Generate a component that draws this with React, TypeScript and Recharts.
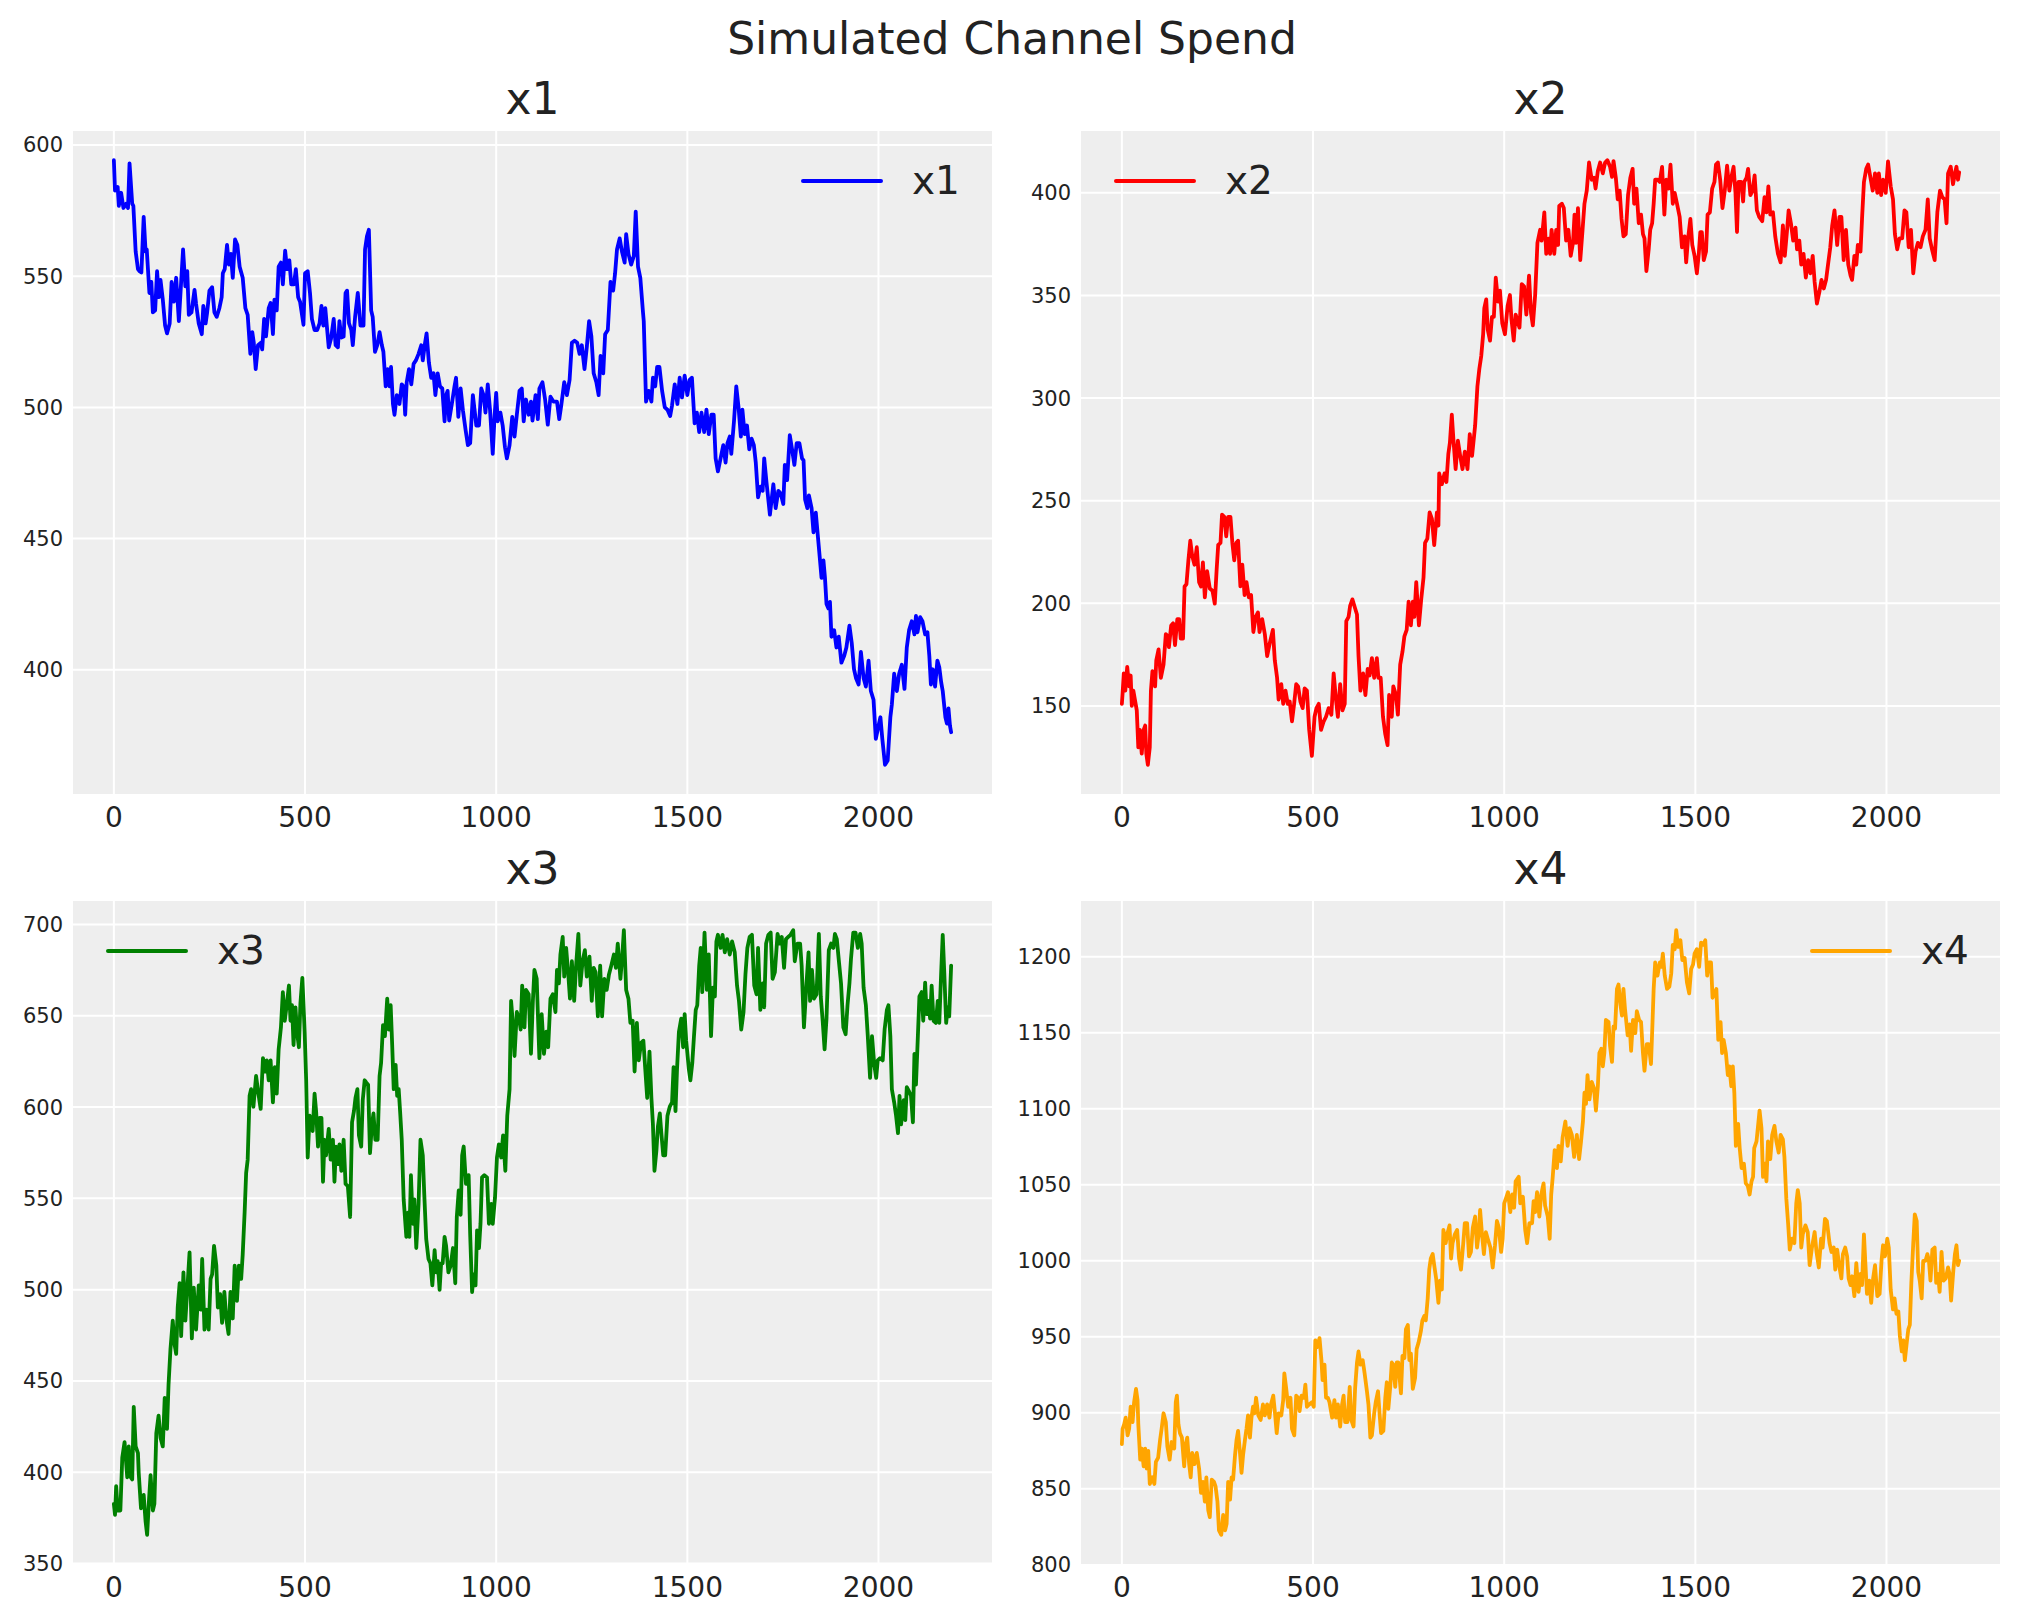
import { LineChart, Line, XAxis, YAxis, CartesianGrid, Legend } from "recharts";

// simulated daily spend per channel as [day, spend]
const channelNames = ["x1", "x2", "x3", "x4"];
const channelColors = ["#0000ff", "#ff0000", "#008000", "#ffa500"];
const dayTicks = [0, 500, 1000, 1500, 2000];
const lastDay = 2190;

const x1Ticks = [400, 450, 500, 550, 600];
const x2Ticks = [150, 200, 250, 300, 350, 400];
const x3Ticks = [350, 400, 450, 500, 550, 600, 650, 700];
const x4Ticks = [800, 850, 900, 950, 1000, 1050, 1100, 1150, 1200];

const x1Spend: [number, number][] = [
  [0, 594.2], [3, 582.6], [10, 584], [13, 576.8], [19, 581.8], [25, 576], [32, 577.6], [37, 576], [41, 593], [48, 577.6],
  [51, 576.8], [57, 559.4], [63, 552.7], [67, 551.9], [72, 551.4], [78, 572.6], [83, 559.4], [86, 560.2], [93, 543.6], [98, 547.8],
  [102, 536.2], [108, 537], [113, 551.9], [118, 542], [122, 548.6], [128, 541.1], [134, 531.2], [139, 528.2], [146, 532], [151, 547.8],
  [157, 540.3], [163, 549.4], [170, 532.9], [176, 547.8], [181, 560.2], [187, 546.1], [192, 551.9], [196, 535.3], [203, 536.2], [211, 544.8],
  [215, 539.5], [222, 532], [230, 527.9], [234, 538.7], [240, 532], [244, 536.2], [250, 544.5], [257, 545.8], [263, 536.2], [269, 534.5],
  [276, 537.8], [282, 542], [285, 551.1], [290, 552.7], [296, 561.9], [301, 554.4], [306, 558.5], [311, 549.4], [317, 564], [323, 561.9],
  [329, 553.6], [337, 549.4], [344, 537.8], [350, 535.3], [357, 520.4], [362, 528.7], [366, 524.6], [371, 514.6], [377, 523.7], [384, 524.6],
  [388, 522.1], [393, 533.7], [398, 527.1], [405, 537.8], [410, 539.8], [416, 527.9], [420, 541.1], [426, 537], [431, 553.6], [437, 555.2],
  [442, 546.9], [448, 559.7], [453, 552.7], [459, 556], [464, 546.9], [471, 546.9], [476, 552.7], [482, 542], [487, 540.3], [496, 531.5],
  [500, 551.1], [507, 551.9], [513, 543.6], [518, 533.7], [525, 529.5], [532, 529.5], [538, 532], [543, 538.7], [548, 531.2], [553, 537.8],
  [558, 529.5], [562, 522.9], [568, 526.2], [575, 533.7], [580, 523.7], [586, 522.9], [590, 532.9], [595, 526.6], [601, 527], [606, 543.6],
  [610, 544.5], [615, 532], [621, 529.5], [625, 523.7], [631, 534.5], [638, 543.6], [645, 531.2], [653, 531.2], [657, 560.2], [662, 565.2],
  [667, 567.7], [673, 537], [677, 534.5], [683, 521.2], [689, 523.7], [695, 528.7], [701, 523.7], [705, 521.2], [711, 508], [716, 514.6],
  [721, 508], [725, 515.4], [730, 501.3], [734, 497.2], [740, 504.7], [747, 501.3], [753, 508.8], [758, 508], [762, 497.2], [766, 509.6],
  [772, 514.6], [778, 508.8], [784, 516.6], [790, 517.9], [797, 520.4], [804, 523.7], [808, 517.9], [814, 524.6], [818, 528.2], [824, 517.1],
  [830, 511.3], [836, 513], [841, 504.7], [847, 513], [853, 508], [859, 507.2], [865, 494.7], [869, 504.7], [873, 506.3], [877, 495],
  [884, 501.3], [891, 508], [895, 511.3], [901, 496.4], [907, 507.2], [913, 498.9], [920, 491.4], [926, 485.6], [932, 486.4], [939, 504.7],
  [943, 499.7], [948, 493.1], [955, 493.1], [961, 507.2], [967, 504.7], [972, 498], [978, 508.8], [984, 498.9], [991, 482.3], [996, 497.2],
  [1000, 505.5], [1004, 494.7], [1011, 498], [1017, 493.1], [1023, 484.8], [1028, 480.6], [1035, 485.6], [1042, 496.4], [1048, 488.9], [1054, 497.2],
  [1061, 506.3], [1067, 507.2], [1072, 494.7], [1078, 503], [1085, 497.2], [1091, 502.2], [1095, 495], [1103, 504.7], [1109, 495.5], [1113, 507.2],
  [1121, 509.6], [1128, 503], [1135, 493.4], [1142, 504.1], [1150, 502.2], [1159, 502.2], [1165, 495.5], [1170, 500.5], [1178, 509.6], [1185, 504.7],
  [1192, 510.5], [1198, 524.6], [1205, 525.4], [1212, 524.6], [1218, 520.4], [1224, 523.7], [1231, 514.6], [1237, 522.9], [1243, 532.9], [1249, 527.1],
  [1255, 513], [1262, 509.6], [1268, 504.7], [1273, 519.6], [1280, 513], [1285, 527.9], [1292, 529.5], [1299, 547.8], [1306, 544.5], [1311, 551.1],
  [1316, 560.2], [1323, 564.4], [1329, 559.4], [1336, 555.2], [1340, 566], [1346, 558.5], [1353, 554.4], [1360, 557.7], [1365, 574.6], [1371, 553.6],
  [1377, 549.4], [1384, 536.2], [1386, 532.9], [1392, 502.2], [1399, 506.3], [1406, 502.2], [1410, 511.3], [1416, 508], [1421, 515.4], [1427, 515.4],
  [1434, 506.3], [1441, 500], [1448, 499.1], [1455, 496.7], [1460, 500.8], [1467, 508.8], [1474, 501.3], [1480, 511.3], [1486, 503.8], [1493, 512.1],
  [1500, 504.7], [1506, 510.5], [1512, 511.3], [1519, 493.9], [1525, 498], [1531, 490.6], [1537, 498], [1544, 490.6], [1550, 499.1], [1556, 489.8],
  [1563, 497.2], [1569, 497.2], [1574, 480.6], [1580, 475.6], [1587, 480.6], [1594, 485.6], [1600, 479], [1605, 486.4], [1611, 488.9], [1615, 482.3],
  [1622, 494.7], [1628, 508], [1634, 500], [1640, 488.9], [1644, 499.1], [1650, 489.8], [1656, 493.1], [1662, 484], [1668, 488.1], [1674, 485.6],
  [1679, 479], [1685, 465.7], [1691, 469.8], [1697, 468.2], [1701, 480.6], [1707, 471.5], [1716, 459.1], [1725, 470.7], [1731, 461.6], [1738, 468.2],
  [1744, 467.3], [1751, 463.2], [1755, 478.1], [1761, 472.3], [1768, 489.4], [1774, 483.9], [1780, 478.1], [1786, 486.4], [1793, 486.4], [1800, 480.6],
  [1804, 479.8], [1808, 464.9], [1814, 461.6], [1818, 466.5], [1825, 461.6], [1830, 452.4], [1836, 459.9], [1841, 451.6], [1847, 441.7], [1851, 435],
  [1856, 441.7], [1860, 435], [1864, 425.1], [1869, 423.4], [1873, 425.9], [1877, 412.6], [1884, 415.1], [1890, 408.5], [1896, 412.6], [1903, 402.7],
  [1910, 405.2], [1916, 408.5], [1924, 416.8], [1930, 410.2], [1936, 400.2], [1941, 396.9], [1948, 394.4], [1954, 406.8], [1961, 396.9], [1967, 393.6],
  [1974, 403.5], [1980, 391.9], [1987, 388.6], [1993, 373.7], [2000, 378.6], [2005, 381.9], [2010, 373.7], [2017, 363.8], [2024, 365.4], [2031, 381.9],
  [2035, 386.9], [2041, 398.5], [2048, 391.9], [2054, 398.5], [2061, 401.9], [2068, 392.7], [2074, 408.5], [2080, 415.1], [2087, 418.5], [2094, 413.5],
  [2098, 420.5], [2102, 414.3], [2109, 420.1], [2115, 418.5], [2122, 413.5], [2128, 414.3], [2133, 405.2], [2137, 394.4], [2142, 400.2], [2148, 393.6],
  [2154, 403.5], [2159, 401], [2164, 395.2], [2168, 391.9], [2175, 381.9], [2179, 379.5], [2183, 385.3], [2187, 378.6], [2190, 376.2],
];

const x2Spend: [number, number][] = [
  [0, 151], [2, 156.3], [5, 165.8], [9, 157.4], [14, 169], [19, 159.5], [23, 164.8], [26, 150], [30, 157.4], [35, 152.1],
  [39, 147.8], [43, 129.8], [47, 138.3], [52, 126.7], [57, 138.3], [61, 140.4], [64, 126.7], [68, 121.3], [73, 129.8], [76, 157.4],
  [80, 166.9], [87, 159.5], [90, 172.2], [96, 177.5], [102, 163.7], [109, 170.1], [115, 184.9], [121, 183.9], [123, 178.6], [129, 189.2],
  [134, 190.2], [139, 179.6], [145, 192.3], [150, 192.3], [154, 182.8], [160, 182.8], [164, 208.2], [169, 209.3], [174, 220.9], [179, 230.5],
  [184, 223], [190, 218.8], [196, 227.3], [202, 210.3], [207, 208.2], [212, 219.9], [217, 202.9], [223, 215.6], [230, 207.2], [237, 206.1],
  [243, 199.8], [248, 216.7], [252, 228.4], [258, 229.4], [262, 243.2], [268, 242.1], [273, 232.6], [278, 242.1], [284, 242.1], [289, 229.4],
  [294, 220.9], [299, 229.4], [304, 230.5], [310, 208.2], [315, 218.8], [321, 204], [326, 210.3], [332, 202.9], [338, 204], [344, 186],
  [350, 193.4], [356, 195.5], [360, 186], [367, 192.3], [374, 184.9], [380, 174.3], [387, 180.7], [395, 187], [400, 172.2], [406, 163.7],
  [410, 153.1], [417, 160.6], [422, 151], [428, 157.4], [434, 151], [439, 152.1], [445, 142.5], [450, 150], [456, 160.6], [461, 159.5],
  [467, 152.1], [473, 148.9], [478, 158.5], [484, 157.4], [490, 138.3], [497, 125.6], [504, 144.7], [509, 148.9], [515, 151], [521, 138.3],
  [528, 142.5], [534, 144.7], [541, 148.9], [548, 145.7], [554, 165.8], [560, 153.1], [565, 144.7], [571, 160.6], [577, 147.8], [583, 151],
  [587, 191.3], [593, 193.4], [597, 198.7], [603, 201.9], [610, 197.6], [615, 194.5], [619, 174.3], [624, 157.4], [631, 165.8], [637, 155.3],
  [643, 168], [648, 164.8], [654, 173.3], [660, 163.7], [667, 173.3], [671, 163.7], [677, 163.7], [683, 144.7], [689, 136.2], [695, 130.9],
  [699, 155.3], [706, 144.7], [710, 159.5], [717, 155.3], [722, 145.7], [728, 170.1], [734, 176.4], [739, 183.9], [745, 187], [750, 200.8],
  [756, 189.2], [761, 200.8], [765, 193.4], [770, 210.3], [777, 189.2], [783, 201.9], [789, 212.5], [793, 229.4], [799, 231.5], [805, 244.3],
  [811, 241.1], [817, 228.4], [824, 244.3], [828, 237.9], [830, 263.3], [837, 258], [844, 263.3], [849, 259.1], [854, 272.9], [858, 278.2],
  [863, 291.9], [867, 280.3], [873, 265.4], [879, 279.2], [885, 271.8], [891, 265.4], [897, 273.9], [904, 265.4], [910, 282.4], [916, 271.8],
  [924, 286.6], [930, 305.7], [935, 314.2], [940, 320.5], [945, 331.1], [948, 343.8], [953, 348.1], [957, 333.3], [963, 328], [968, 339.6],
  [973, 339.6], [978, 358.7], [984, 347], [989, 352.3], [995, 336.4], [1002, 331.1], [1009, 344.9], [1015, 350.2], [1019, 338.6], [1025, 328],
  [1030, 340.7], [1040, 334.3], [1046, 355.5], [1052, 354.4], [1058, 340.7], [1065, 359.7], [1070, 341.7], [1075, 335.4], [1081, 350.2], [1087, 375.6],
  [1094, 382], [1098, 376.7], [1105, 390.5], [1110, 370.3], [1116, 377.7], [1120, 370.3], [1124, 382], [1131, 370.3], [1136, 382], [1141, 374.6],
  [1144, 393.6], [1151, 394.7], [1156, 392.6], [1162, 376.7], [1168, 382], [1174, 369.3], [1180, 375.6], [1184, 389.4], [1188, 375.6], [1193, 392.6],
  [1199, 367.2], [1205, 382], [1210, 394.7], [1216, 401.1], [1222, 414.8], [1229, 406.4], [1235, 407.4], [1239, 402.1], [1245, 410.6], [1251, 414.8],
  [1258, 409.5], [1264, 414.8], [1270, 415.9], [1277, 412.7], [1282, 407.8], [1286, 415.5], [1292, 407.4], [1297, 396.8], [1302, 401.1], [1307, 387.3],
  [1312, 378.8], [1318, 379.9], [1324, 398.9], [1330, 407.4], [1336, 411.7], [1340, 394.7], [1346, 402.1], [1352, 385.2], [1358, 389.4], [1363, 379.9],
  [1367, 377.8], [1372, 361.9], [1378, 372.5], [1382, 382], [1387, 385.2], [1391, 394.7], [1395, 406.4], [1401, 406.4], [1407, 405.3], [1413, 412.7],
  [1419, 389.4], [1424, 406.4], [1430, 402.1], [1435, 413.8], [1441, 394.7], [1446, 400], [1452, 394.7], [1459, 388.3], [1465, 373.5], [1472, 378.8],
  [1476, 366.1], [1481, 377.8], [1487, 387.3], [1492, 374.6], [1498, 369.3], [1504, 360.8], [1509, 370.3], [1513, 380.9], [1517, 380.9], [1522, 367.2],
  [1528, 371.4], [1532, 389.4], [1538, 390.5], [1544, 402.1], [1550, 405.3], [1554, 413.8], [1559, 414.8], [1565, 406.4], [1571, 392.6], [1577, 401.1],
  [1583, 413.3], [1589, 401.1], [1594, 407.4], [1600, 412.7], [1605, 400], [1609, 380.9], [1613, 405.3], [1620, 405.3], [1625, 395.8], [1628, 405.3],
  [1634, 407.4], [1638, 411.7], [1644, 398.9], [1650, 401.1], [1655, 408.5], [1661, 391.5], [1667, 388.3], [1675, 386.2], [1681, 397.9], [1686, 390.5],
  [1691, 403.2], [1696, 389.4], [1703, 390.5], [1709, 378.8], [1716, 370.3], [1723, 366.1], [1729, 384.1], [1734, 369.3], [1740, 382], [1744, 391.5],
  [1750, 385.2], [1756, 376.7], [1762, 383], [1766, 372.5], [1772, 376.7], [1777, 365], [1783, 370.3], [1789, 358.7], [1795, 367.2], [1801, 360.8],
  [1807, 369.3], [1812, 356.6], [1818, 346], [1825, 352.3], [1830, 357.6], [1836, 353.4], [1842, 357.6], [1847, 365], [1853, 373.5], [1858, 384.1],
  [1864, 391.5], [1871, 374.6], [1877, 388.3], [1882, 388.3], [1888, 367.2], [1894, 382], [1900, 365], [1906, 359.7], [1910, 357.6], [1916, 369.3],
  [1921, 365], [1925, 374.6], [1932, 371.4], [1936, 387.3], [1941, 405.3], [1947, 411.7], [1952, 413.8], [1958, 407.4], [1964, 401.1], [1970, 409.5],
  [1976, 400], [1980, 409.5], [1986, 398.9], [1991, 406.4], [1998, 400], [2004, 415.3], [2011, 403.2], [2017, 396.8], [2022, 379.9], [2028, 372.5],
  [2034, 377.8], [2041, 377.8], [2047, 391.5], [2052, 390.5], [2058, 373.5], [2064, 382], [2070, 360.8], [2076, 371.4], [2082, 375.6], [2089, 373.5],
  [2095, 378.8], [2102, 382], [2108, 396.8], [2113, 377.8], [2119, 372.5], [2126, 367.2], [2133, 390.5], [2140, 401.1], [2146, 397.9], [2152, 396.8],
  [2157, 385.2], [2161, 409.5], [2168, 412.7], [2174, 404.2], [2179, 409.5], [2183, 412.7], [2187, 406.4], [2190, 410],
];

const x3Spend: [number, number][] = [
  [0, 382.6], [3, 376.6], [6, 392.3], [10, 379], [17, 379], [22, 408], [28, 416.5], [35, 397.2], [39, 414.1], [44, 397.2],
  [48, 396], [52, 435.8], [57, 414.1], [63, 410.4], [65, 399.6], [71, 380.2], [78, 387.5], [83, 372.9], [87, 365.7], [92, 385.1],
  [96, 398.4], [102, 379], [106, 382.6], [111, 421.3], [117, 431], [122, 418.9], [128, 414.1], [133, 440.7], [139, 423.7], [143, 447.9],
  [148, 467.2], [154, 483], [159, 469.7], [163, 464.8], [167, 490.2], [172, 503.5], [176, 474.5], [182, 509.5], [187, 483], [193, 503.5],
  [198, 520.4], [204, 473.3], [209, 501.1], [215, 478.1], [222, 502.3], [227, 489], [231, 516.8], [237, 478.1], [242, 489], [248, 478.1],
  [253, 505.9], [257, 508.3], [262, 524], [268, 513.2], [272, 490.2], [278, 497.5], [283, 481.8], [289, 498.7], [294, 484.2], [300, 475.7],
  [305, 498.7], [311, 484.2], [316, 513.2], [322, 493.8], [327, 513.2], [333, 505.9], [337, 519.2], [342, 542.2], [346, 563.9], [350, 571.2],
  [355, 606.2], [359, 609.8], [365, 600.2], [372, 617.1], [378, 607.4], [384, 599], [390, 626.8], [396, 619.5], [400, 625.6], [405, 614.7],
  [410, 625.6], [416, 602.6], [421, 621.9], [426, 607.4], [431, 631.6], [437, 643.7], [442, 663], [447, 647.3], [452, 655.8], [458, 666.6],
  [462, 647.3], [466, 655.8], [470, 634], [475, 654.6], [479, 641.3], [484, 632.8], [488, 657], [493, 670.8], [499, 641.3], [503, 614.7],
  [507, 572.4], [512, 595.3], [516, 592.9], [520, 586.9], [525, 607.4], [529, 597.8], [534, 578.4], [538, 594.1], [543, 594.1], [547, 559.1],
  [551, 582.1], [555, 573.6], [562, 588.1], [567, 571.2], [573, 582.1], [577, 559.1], [581, 578.4], [586, 568.8], [590, 579.6], [595, 565.1],
  [601, 582.1], [606, 557.9], [612, 556.7], [618, 539.8], [623, 591.7], [628, 597.8], [632, 605], [637, 609.8], [641, 584.5], [647, 578.4],
  [651, 603.8], [656, 614.7], [660, 613.5], [665, 612.3], [670, 574.8], [675, 590.5], [679, 596.5], [684, 582.1], [690, 582.1], [695, 617.1],
  [699, 624.3], [704, 644.9], [709, 638.9], [715, 659.4], [719, 642.5], [724, 655.8], [728, 634], [732, 609.8], [737, 623.1], [741, 606.2],
  [745, 609.8], [749, 596.5], [753, 582.1], [758, 549.4], [765, 528.9], [769, 542.2], [773, 528.9], [777, 562.7], [782, 536.1], [786, 549.4],
  [791, 522.8], [797, 547], [802, 582.1], [808, 573.6], [812, 551.8], [817, 527.7], [823, 516.8], [828, 514.4], [833, 502.3], [839, 521.6],
  [843, 509.5], [847, 515.6], [852, 499.9], [856, 514.4], [860, 514.4], [865, 528.9], [869, 524], [875, 509.5], [881, 513.2], [887, 522.8],
  [893, 503.5], [897, 539.8], [902, 554.3], [907, 541], [911, 573.6], [915, 578.4], [921, 557.9], [928, 562.7], [932, 530.1], [937, 498.7],
  [941, 508.3], [946, 502.3], [950, 532.5], [955, 522.8], [959, 536.1], [963, 561.5], [969, 562.7], [976, 561.5], [981, 536.1], [987, 547],
  [991, 536.1], [997, 550.6], [1002, 572.4], [1007, 579.6], [1013, 572.4], [1018, 584.5], [1024, 565.1], [1029, 595.3], [1035, 609.8], [1039, 658.2],
  [1044, 644.9], [1048, 628], [1054, 652.1], [1060, 648.5], [1064, 642.5], [1068, 666.6], [1074, 643.7], [1078, 664.2], [1085, 661.8], [1091, 629.2],
  [1096, 658.2], [1100, 675.1], [1106, 670.3], [1113, 626.8], [1119, 650.9], [1125, 629.2], [1131, 641.3], [1136, 632.8], [1142, 659.4], [1148, 661.8],
  [1155, 652.1], [1159, 675.1], [1164, 667.8], [1168, 683.6], [1174, 693.2], [1178, 671.5], [1183, 687.2], [1189, 671.5], [1193, 659.4], [1198, 679.9],
  [1204, 658.2], [1209, 677.5], [1215, 694.9], [1220, 666.6], [1226, 679.9], [1232, 686], [1237, 671.5], [1244, 682.4], [1250, 658.2], [1255, 676.3],
  [1260, 673.9], [1266, 649.7], [1272, 677.5], [1277, 649.7], [1283, 670.3], [1289, 664.2], [1295, 672.7], [1301, 677.5], [1308, 683.6], [1313, 676.3],
  [1318, 689.6], [1325, 670.3], [1330, 683.6], [1334, 696.9], [1340, 664.2], [1346, 659.4], [1351, 646.1], [1357, 647.3], [1362, 619.5], [1368, 646.1],
  [1373, 625.6], [1379, 635.2], [1385, 636.4], [1390, 620.7], [1395, 605], [1401, 630.4], [1406, 605], [1410, 590.5], [1414, 565.1], [1419, 575.9],
  [1423, 589.3], [1428, 596.5], [1432, 585.7], [1437, 573.6], [1442, 573.6], [1448, 595.3], [1454, 600.2], [1460, 602.6], [1464, 621.9], [1469, 597.8],
  [1473, 620.7], [1478, 641.3], [1484, 648.5], [1489, 632.8], [1493, 650.9], [1497, 636.4], [1504, 620.7], [1508, 614.7], [1513, 624.3], [1517, 637.6],
  [1522, 653.3], [1526, 655.8], [1531, 677.5], [1535, 687.2], [1539, 663], [1545, 695.6], [1551, 664.2], [1556, 683.6], [1562, 638.9], [1567, 665.4],
  [1572, 660.6], [1576, 690.8], [1580, 694.4], [1587, 687.2], [1592, 694.4], [1598, 684.8], [1604, 692], [1611, 683.6], [1617, 690.8], [1624, 684.8],
  [1630, 666.6], [1635, 658.2], [1641, 642.5], [1647, 652.1], [1652, 672.7], [1657, 687.2], [1663, 693.2], [1669, 694.4], [1675, 666.6], [1681, 661.8],
  [1685, 687.2], [1691, 653.3], [1697, 667.8], [1701, 654.6], [1706, 689.6], [1712, 694.4], [1718, 695.6], [1723, 670.3], [1729, 674], [1736, 694.9],
  [1742, 689.6], [1747, 693.2], [1753, 676.3], [1758, 692], [1764, 693.2], [1770, 694.4], [1777, 696.9], [1781, 679.9], [1788, 689.6], [1795, 689.6],
  [1799, 677.5], [1805, 643.7], [1811, 665.4], [1817, 684.8], [1821, 658.2], [1826, 675.1], [1831, 659.4], [1838, 661.8], [1844, 694.9], [1849, 660.6],
  [1854, 647.3], [1859, 631.6], [1864, 648.5], [1870, 686], [1876, 689.6], [1882, 687.2], [1886, 694.9], [1891, 692], [1897, 678.7], [1902, 667.8],
  [1908, 643.7], [1914, 639.9], [1919, 655.8], [1924, 667.8], [1928, 681.1], [1934, 695.6], [1940, 695.6], [1946, 687.2], [1952, 694.9], [1956, 689.6],
  [1961, 665.4], [1967, 655.8], [1972, 638.9], [1978, 616], [1983, 638.9], [1989, 623.1], [1994, 616], [1998, 625.6], [2004, 626.8], [2011, 625.6],
  [2016, 642.5], [2022, 653.3], [2026, 655.8], [2031, 638.9], [2035, 609.8], [2041, 602.6], [2046, 595.3], [2051, 585.7], [2055, 606.2], [2059, 590.5],
  [2066, 603.8], [2070, 592.9], [2074, 610.9], [2080, 608.6], [2085, 606.2], [2090, 591.7], [2094, 629.2], [2098, 612.3], [2103, 638.9], [2107, 660.6],
  [2113, 663], [2117, 647.3], [2122, 668.2], [2126, 650.9], [2130, 658.2], [2135, 648.5], [2139, 666.6], [2144, 647.3], [2150, 646.1], [2155, 658.2],
  [2159, 646.1], [2164, 674], [2168, 694.4], [2172, 674], [2177, 646.1], [2181, 654.6], [2185, 649.7], [2190, 677.5],
];

const x4Spend: [number, number][] = [
  [0, 879.4], [2, 889.5], [6, 892.4], [10, 896.8], [15, 885.2], [19, 889.5], [23, 904], [28, 893.9], [32, 907], [37, 915.7],
  [41, 908.4], [43, 892.4], [48, 869.2], [52, 876.5], [57, 864.8], [61, 876.5], [65, 863.4], [69, 875], [73, 853.2], [80, 857.6],
  [85, 853.2], [89, 867.7], [95, 870.6], [100, 882.3], [104, 889.5], [109, 899.7], [115, 893.9], [119, 877.9], [125, 869.2], [130, 880.8],
  [137, 876.5], [141, 907], [144, 911.3], [148, 892.4], [152, 886.6], [157, 883.7], [163, 864.8], [167, 879.4], [171, 883.7], [176, 866.3],
  [180, 857.6], [184, 873.6], [190, 866.3], [196, 873.6], [202, 863.4], [207, 847.4], [212, 854.6], [217, 841.6], [221, 857.6], [226, 835.8],
  [230, 831.4], [235, 856.1], [241, 854.6], [245, 851.7], [250, 841.6], [254, 822.7], [260, 819.8], [265, 832.8], [270, 822.7], [274, 827],
  [278, 854.6], [283, 843], [287, 857.6], [291, 856.1], [296, 872.1], [300, 882.3], [304, 888.1], [309, 873.6], [313, 860.5], [317, 872.1],
  [322, 882.3], [326, 889.5], [330, 898.3], [335, 883.7], [339, 896.8], [343, 904], [347, 899.7], [351, 909.9], [357, 898.3], [363, 895.3],
  [369, 905.5], [374, 898.3], [380, 905.5], [386, 896.8], [390, 905.5], [396, 911.3], [400, 901.2], [405, 886.6], [410, 899.7], [417, 898.3],
  [422, 908.4], [425, 925.9], [430, 915.7], [435, 904], [441, 909.9], [445, 889.5], [451, 885.2], [456, 911.3], [461, 909.9], [465, 901.2],
  [470, 911.3], [476, 909.9], [480, 918.6], [484, 904], [490, 905.5], [497, 907], [502, 904], [506, 947.7], [511, 943.2], [517, 949.1],
  [522, 934.6], [525, 921.5], [530, 931.7], [534, 909.9], [539, 909.9], [543, 907], [550, 896.8], [556, 908.4], [560, 896.8], [565, 905.5],
  [571, 891], [576, 905.5], [580, 911.3], [584, 893.9], [590, 893.9], [596, 917.1], [600, 895.3], [606, 891], [610, 915.7], [615, 933.1],
  [619, 940.4], [624, 931.7], [630, 934.6], [635, 925.9], [641, 914.2], [645, 905.5], [650, 883.7], [654, 885.2], [660, 899.7], [664, 907],
  [670, 914.2], [674, 899.7], [678, 886.6], [684, 888.1], [689, 909.9], [693, 920.1], [697, 902.6], [702, 917.1], [706, 933.1], [710, 931.7],
  [715, 917.1], [719, 933.1], [723, 933.1], [730, 912.8], [734, 937.5], [739, 936], [743, 954.9], [748, 957.8], [752, 934.6], [756, 939],
  [761, 915.7], [767, 923], [771, 941.9], [776, 946.2], [782, 953.5], [786, 960.8], [791, 963.7], [795, 960.8], [800, 975.3], [804, 994.2],
  [808, 1001.5], [813, 1004.4], [817, 997.1], [822, 988.4], [828, 972.4], [832, 986.9], [837, 981.1], [841, 1020.3], [847, 1011.6], [851, 1017.4],
  [857, 1023.3], [861, 1001.5], [865, 1011.6], [871, 1017.4], [877, 1020.3], [882, 1001.5], [887, 994.2], [893, 1011.6], [897, 1024.7], [903, 1024.7],
  [908, 1002.9], [913, 1005.8], [918, 1021.8], [924, 1029.1], [929, 1008.7], [934, 1018.9], [937, 1033.4], [942, 1017.4], [947, 1004.4], [952, 1018.9],
  [957, 1014.5], [964, 1008.7], [970, 995.6], [976, 1010.2], [981, 1026.2], [986, 1021.8], [992, 1005.8], [996, 1014.5], [1000, 1037.8], [1006, 1042.1],
  [1010, 1045.1], [1016, 1032], [1021, 1043.6], [1026, 1034.9], [1030, 1052.3], [1038, 1055.2], [1042, 1037.8], [1049, 1042.1], [1055, 1020.3], [1060, 1011.6],
  [1066, 1024.7], [1073, 1024.7], [1077, 1039.2], [1081, 1032], [1086, 1045.1], [1092, 1029.1], [1097, 1043.6], [1103, 1050.9], [1107, 1036.3], [1114, 1029.1],
  [1119, 1014.5], [1123, 1043.6], [1127, 1055.2], [1132, 1072.7], [1138, 1061], [1142, 1075.6], [1148, 1065.4], [1153, 1081.4], [1160, 1091.6], [1166, 1075.6],
  [1171, 1087.2], [1177, 1082.8], [1183, 1068.3], [1190, 1082.8], [1196, 1066.9], [1201, 1078.5], [1206, 1091.6], [1210, 1110.5], [1214, 1103.2], [1218, 1122.1],
  [1223, 1106.1], [1229, 1117.7], [1235, 1113.4], [1240, 1098.8], [1245, 1114.8], [1249, 1136.6], [1254, 1139.5], [1258, 1127.9], [1262, 1136.6], [1266, 1158.4],
  [1273, 1157], [1277, 1141], [1282, 1130.8], [1286, 1154.1], [1290, 1152.6], [1295, 1178.8], [1299, 1181.7], [1304, 1168.6], [1308, 1161.3], [1312, 1178.8],
  [1316, 1165.7], [1323, 1148.3], [1328, 1155.5], [1332, 1138.1], [1337, 1158.4], [1343, 1149.7], [1347, 1164.2], [1353, 1158.4], [1358, 1157], [1363, 1136.6],
  [1367, 1125], [1373, 1142.4], [1378, 1142.4], [1384, 1129.4], [1388, 1157], [1391, 1178.8], [1395, 1196.2], [1401, 1187.5], [1407, 1196.2], [1411, 1193.3],
  [1415, 1202], [1420, 1187.5], [1426, 1178.8], [1432, 1180.3], [1437, 1189], [1441, 1207.8], [1446, 1204.9], [1450, 1217.4], [1455, 1206.4], [1461, 1210.8],
  [1466, 1197.7], [1472, 1199.1], [1478, 1183.1], [1484, 1175.9], [1489, 1191.9], [1494, 1194.8], [1498, 1202], [1504, 1204.9], [1510, 1193.3], [1515, 1209.3],
  [1520, 1207.8], [1526, 1210.8], [1531, 1187.5], [1536, 1196.2], [1541, 1196.2], [1545, 1173], [1550, 1175.9], [1555, 1178.8], [1560, 1145.3], [1566, 1157],
  [1570, 1136.6], [1574, 1145.3], [1580, 1136.6], [1585, 1122.1], [1589, 1127.9], [1594, 1114.8], [1598, 1127.9], [1602, 1110.5], [1606, 1075.6], [1612, 1090.1],
  [1616, 1074.1], [1621, 1061], [1627, 1063.9], [1632, 1050.9], [1637, 1049.4], [1642, 1043.6], [1647, 1052.3], [1651, 1055.2], [1654, 1074.1], [1660, 1078.5],
  [1664, 1088.7], [1668, 1098.8], [1673, 1087.2], [1677, 1055.2], [1682, 1063.9], [1686, 1052.3], [1690, 1078.5], [1696, 1066.9], [1701, 1082.8], [1707, 1088.7],
  [1712, 1078.5], [1718, 1071.2], [1723, 1082.8], [1729, 1079.9], [1733, 1068.3], [1738, 1040.7], [1743, 1023.3], [1747, 1007.3], [1753, 1014.5], [1759, 1011.6],
  [1764, 1037.8], [1768, 1046.5], [1773, 1037.8], [1777, 1008.7], [1781, 1017.4], [1788, 1023.3], [1794, 1018.9], [1799, 997.1], [1805, 1008.7], [1812, 1018.9],
  [1817, 1005.8], [1823, 995.6], [1829, 1014.5], [1833, 1008.7], [1839, 1027.6], [1844, 1026.2], [1851, 1011.6], [1856, 1005.8], [1862, 1008.7], [1866, 994.2],
  [1871, 1007.3], [1877, 995.6], [1882, 988.4], [1886, 1004.4], [1892, 1008.7], [1897, 1002.9], [1901, 988.4], [1906, 984], [1910, 989.8], [1916, 976.7],
  [1921, 998.5], [1927, 979.6], [1932, 991.3], [1936, 984], [1941, 1017.4], [1945, 997.1], [1949, 978.2], [1955, 986.9], [1960, 972.4], [1965, 988.4],
  [1970, 997.1], [1976, 976.7], [1982, 978.2], [1987, 1000], [1991, 1010.2], [1996, 1002.9], [2002, 1014.5], [2006, 1008.7], [2011, 981.1], [2017, 968],
  [2021, 975.3], [2026, 965.1], [2031, 966.6], [2035, 950.6], [2040, 940.4], [2044, 947.7], [2048, 934.6], [2053, 946.2], [2057, 954.9], [2061, 957.8],
  [2065, 985.5], [2070, 1011.6], [2074, 1030.5], [2079, 1026.2], [2083, 992.7], [2087, 986.9], [2092, 975.3], [2096, 1000], [2102, 1000], [2107, 1004.4],
  [2111, 1000], [2115, 986.9], [2120, 1007.3], [2126, 1008.7], [2130, 985.5], [2135, 991.3], [2139, 979.6], [2144, 1005.8], [2149, 986.9], [2155, 988.4],
  [2161, 995.6], [2165, 991.3], [2169, 973.8], [2175, 994.2], [2179, 1004.4], [2183, 1010.2], [2187, 997.1], [2190, 1000],
];

const FONT = "DejaVu Sans";
const INK = "#222222";

// matplotlib-like autoscale: 5% margin on each side of the data range
function padded(lo: number, hi: number): [number, number] {
  const m = (hi - lo) * 0.05;
  return [lo - m, hi + m];
}

function LegendEntry(props: any) {
  const items = props.payload || [];
  return (
    <div style={{ display: "flex", alignItems: "center" }}>
      {items.map((entry: any) => (
        <div key={entry.value} style={{ display: "flex", alignItems: "center" }}>
          <span style={{ display: "inline-block", width: 82, height: 4, borderRadius: 2, background: entry.color }} />
          <span style={{ marginLeft: 29, fontSize: 39, lineHeight: "39px", color: INK, fontFamily: FONT }}>
            {entry.value}
          </span>
        </div>
      ))}
    </div>
  );
}

type PanelProps = {
  name: string;
  color: string;
  points: [number, number][];
  yTicks: number[];
  left: number;
  top: number;
  legendLeft: number;
};

function Panel({ name, color, points, yTicks, left, top, legendLeft }: PanelProps) {
  const data = points.map(([day, spend]) => ({ day, spend }));
  const values = points.map((p) => p[1]);
  const yDomain = padded(Math.min(...values), Math.max(...values));
  const xDomain = padded(0, lastDay);

  return (
    <div style={{ position: "absolute", left, top }}>
      <LineChart width={1003} height={725} data={data} margin={{ top: 10, right: 10, bottom: 0, left: 0 }}>
        <CartesianGrid stroke="#ffffff" strokeWidth={2} fill="#eeeeee" fillOpacity={1} />
        <XAxis
          type="number"
          dataKey="day"
          domain={xDomain}
          ticks={dayTicks}
          allowDataOverflow
          interval={0}
          axisLine={false}
          tickLine={false}
          tickSize={0}
          tickMargin={12}
          height={50}
          tick={{ fontSize: 28, fill: INK, fontFamily: FONT }}
        />
        <YAxis
          type="number"
          domain={yDomain}
          ticks={yTicks}
          allowDataOverflow
          interval={0}
          axisLine={false}
          tickLine={false}
          tickSize={0}
          tickMargin={9}
          width={72}
          tick={{ fontSize: 21, fill: INK, fontFamily: FONT }}
        />
        <Legend
          layout="horizontal"
          verticalAlign="middle"
          align="center"
          wrapperStyle={{ left: legendLeft, top: 41, width: "auto", height: "auto" }}
          content={<LegendEntry />}
        />
        <Line
          type="linear"
          dataKey="spend"
          name={name}
          stroke={color}
          strokeWidth={3.8}
          strokeLinejoin="round"
          strokeLinecap="round"
          dot={false}
          activeDot={false}
          isAnimationActive={false}
        />
      </LineChart>
    </div>
  );
}

const panels = [
  { points: x1Spend, yTicks: x1Ticks, left: 0, top: 120, legendLeft: 801 },
  { points: x2Spend, yTicks: x2Ticks, left: 1008, top: 120, legendLeft: 106 },
  { points: x3Spend, yTicks: x3Ticks, left: 0, top: 890, legendLeft: 106 },
  { points: x4Spend, yTicks: x4Ticks, left: 1008, top: 890, legendLeft: 802 },
];

export default function App() {
  return (
    <div style={{ position: "absolute", left: 0, top: 0, width: 2023, height: 1623, background: "#ffffff" }}>
      {panels.map((p, i) => (
        <Panel
          key={channelNames[i]}
          name={channelNames[i]}
          color={channelColors[i]}
          points={p.points}
          yTicks={p.yTicks}
          left={p.left}
          top={p.top}
          legendLeft={p.legendLeft}
        />
      ))}
      <svg width={2023} height={1623} style={{ position: "absolute", left: 0, top: 0, pointerEvents: "none" }}>
        <text x={1012} y={54} textAnchor="middle" fontSize={44} fill={INK} fontFamily={FONT}>
          Simulated Channel Spend
        </text>
        {panels.map((p, i) => (
          <text
            key={channelNames[i]}
            x={p.left + 72 + 460.5}
            y={p.top + 10 - 16}
            textAnchor="middle"
            fontSize={44}
            fill={INK}
            fontFamily={FONT}
          >
            {channelNames[i]}
          </text>
        ))}
      </svg>
    </div>
  );
}
